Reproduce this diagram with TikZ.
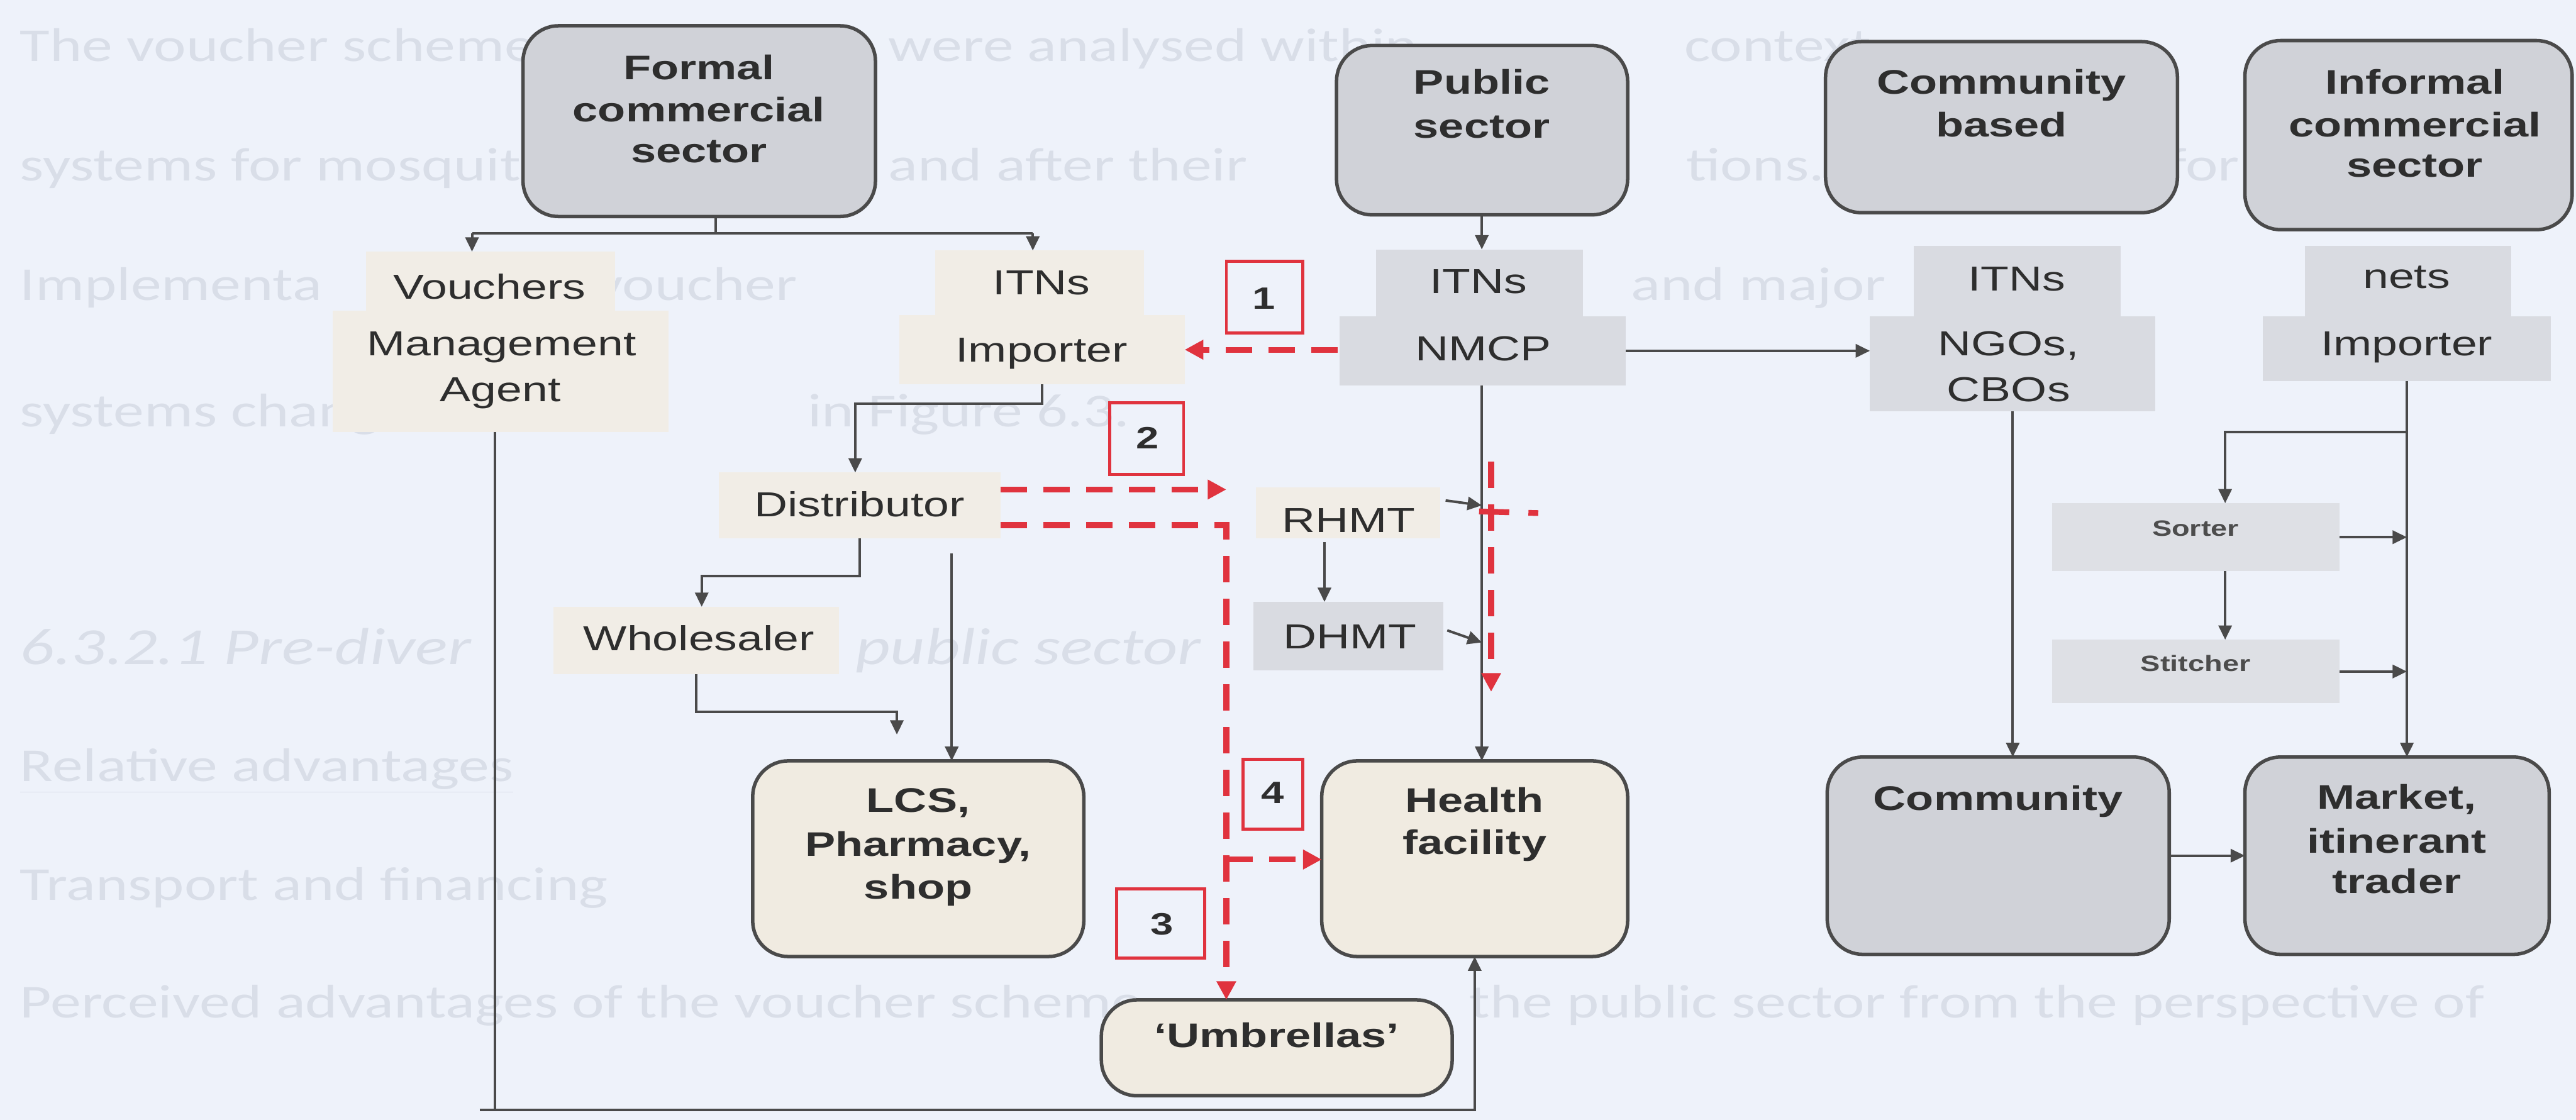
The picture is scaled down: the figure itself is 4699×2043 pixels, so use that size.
\documentclass[tikz,border=0pt]{standalone}
\usepackage{fontspec}
\setmainfont{Liberation Sans}[FakeStretch=1.33]
\newfontfamily\bgfont{Carlito}[FakeStretch=1.3]
\usetikzlibrary{arrows.meta,fit}
\definecolor{pagebg}{HTML}{EEF2FA}
\definecolor{ghost}{HTML}{D9DEE8}
\definecolor{boxgray}{HTML}{D0D2D8}
\definecolor{boxcream}{HTML}{F0EBE1}
\definecolor{lblcream}{HTML}{F1EDE6}
\definecolor{lblgray}{HTML}{D9DBE1}
\definecolor{lblgrayl}{HTML}{DEE0E5}
\definecolor{edge}{HTML}{4A4A4A}
\definecolor{ink}{HTML}{2E2E2E}
\definecolor{redl}{HTML}{E0333E}
\tikzset{
  rbox/.style={draw=edge, line width=1.8pt, rounded corners=6.5mm, inner sep=0pt, outer sep=0pt},
  graybox/.style={rbox, fill=boxgray},
  creambox/.style={rbox, fill=boxcream},
  lblc/.style={inner sep=0pt, outer sep=0pt, draw=none, fill=lblcream},
  lblg/.style={inner sep=0pt, outer sep=0pt, draw=none, fill=lblgray},
  lblgl/.style={inner sep=0pt, outer sep=0pt, draw=none, fill=lblgrayl},
  numbox/.style={draw=redl, line width=1.6pt, inner sep=0pt, outer sep=0pt},
  btxt/.style={anchor=base, inner sep=0pt, text=ink, font=\fontsize{17.7}{21}\selectfont\bfseries},
  rtxt/.style={anchor=base, inner sep=0pt, text=ink, font=\fontsize{18}{22}\selectfont},
  stxt/.style={anchor=base, inner sep=0pt, text=ink!85, font=\fontsize{11.5}{14}\selectfont\bfseries},
  ntxt/.style={anchor=base, inner sep=0pt, text=ink, font=\fontsize{16}{19}\selectfont\bfseries},
  gtxt/.style={anchor=base west, inner sep=0pt, text=ghost, font=\bgfont\fontsize{24.5}{29}\selectfont},
  conn/.style={draw=edge, line width=1.3pt},
  arr/.style={conn, -{Triangle[length=2.6mm,width=2.4mm]}},
  rdash/.style={draw=redl, line width=3pt, dash pattern=on 4.8mm off 3mm},
  rarr/.style={rdash, -{Triangle[length=3.4mm,width=3.4mm]}},
}
\begin{document}
\begin{tikzpicture}[x=0.01cm, y=-0.01cm]
\useasboundingbox (0,0) rectangle (4699,2043);
\fill[pagebg] (0,0) rectangle (4699,2043);

% faint show-through text of the page (only the visible pieces)
\node[gtxt] (g1a) at (36,112) {The voucher scheme};
\node[gtxt] (g1b) at (1620,112) {were analysed within};
\node[gtxt] (g1c) at (3072,112) {context};
\node[gtxt] (g2a) at (36,330) {systems for mosquito};
\node[gtxt] (g2b) at (1620,330) {and after their};
\node[gtxt] (g2c) at (3075,330) {tions. The timeline for};
\node[gtxt] (g3a) at (36,548) {Implementa};
\node[gtxt] (g3b) at (1085,548) {voucher};
\node[gtxt] (g3c) at (2975,548) {and major};
\node[gtxt] (g4a) at (36,778) {systems changes};
\node[gtxt] (g4b) at (1473,778) {in Figure 6.3.};
\node[gtxt, font=\bgfont\itshape\fontsize{27}{32}\selectfont] (g5a) at (36,1212) {6.3.2.1 Pre-diver};
\node[gtxt, font=\bgfont\itshape\fontsize{27}{32}\selectfont] (g5b) at (1560,1212) {public sector};
\node[gtxt] (g6) at (36,1425) {\underline{Relative advantages}};
\node[gtxt] (g7) at (36,1642) {Transport and financing};
\node[gtxt] (g8a) at (36,1857) {Perceived advantages of the voucher scheme};
\node[gtxt] (g8b) at (2680,1857) {the public sector from the perspective of};

% label backgrounds
\node[lblc, fit={(668,459) (1122,567)}] (vouchA) {};
\node[lblc, fit={(607,567) (1219,788)}] (vouchB) {};
\node[lblc, fit={(1706,457) (2087,575)}] (itnA) {};
\node[lblc, fit={(1641,575) (2161,701)}] (itnB) {};
\node[lblg, fit={(2510,455) (2888,577)}] (nmcpA) {};
\node[lblg, fit={(2443,577) (2966,703)}] (nmcpB) {};
\node[lblg, fit={(3491,448) (3868,577)}] (ngoA) {};
\node[lblg, fit={(3411,577) (3932,750)}] (ngoB) {};
\node[lblg, fit={(4204,448) (4581,577)}] (netsA) {};
\node[lblg, fit={(4128,577) (4653,695)}] (netsB) {};
\node[lblc, fit={(1311,862) (1825,982)}] (distr) {};
\node[lblc, fit={(1010,1107) (1530,1230)}] (whole) {};
\node[lblc, fit={(2291,889) (2627,982)}] (rhmt) {};
\node[lblg, fit={(2286,1098) (2633,1223)}] (dhmt) {};
\node[lblgl, fit={(3743,918) (4268,1042)}] (sorter) {};
\node[lblgl, fit={(3743,1167) (4268,1283)}] (stitch) {};

% rounded boxes
\node[graybox, fit={(954,47) (1597,395)}] (formal) {};
\node[graybox, fit={(2438,83) (2969,392)}] (public) {};
\node[graybox, fit={(3330,76) (3972,388)}] (commb) {};
\node[graybox, fit={(4095,74) (4692,419)}] (informal) {};
\node[creambox, fit={(1373,1388) (1977,1745)}] (lcs) {};
\node[creambox, fit={(2411,1388) (2969,1745)}] (health) {};
\node[creambox, fit={(2009,1824) (2649,1999)}] (umbr) {};
\node[graybox, fit={(3333,1381) (3957,1741)}] (community) {};
\node[graybox, fit={(4095,1381) (4650,1741)}] (market) {};

% red number boxes
\node[numbox, fit={(2237,477) (2376,607)}] (n1) {};
\node[numbox, fit={(2024,735) (2159,866)}] (n2) {};
\node[numbox, fit={(2267,1385) (2376,1513)}] (n4) {};
\node[numbox, fit={(2037,1622) (2197,1748)}] (n3) {};

% black connectors
\coordinate (fJ) at (1306,426);
\coordinate (fL) at (861,426);
\coordinate (fR) at (1884,426);
\draw[conn] (fJ |- formal.south) -- (fJ);
\draw[conn] (fL) -- (fR);
\draw[arr] (fL) -- (fL |- vouchA.north);
\draw[arr] (fR) -- (fR |- itnA.north);

\coordinate (pv) at (2703,0);
\draw[arr] (pv |- public.south) -- (pv |- nmcpA.north);
\draw[arr] (nmcpB.south -| pv) -- (health.north -| pv);
\draw[arr] (nmcpB.east) -- (ngoB.west |- nmcpB.east);

\coordinate (vE) at (2703,922);
\coordinate (eS) at (2637,913);
\draw[arr] (eS) -- (vE);
\coordinate (vF) at (2703,1172);
\coordinate (fS) at (2640,1150);
\draw[arr] (fS) -- (vF);
\coordinate (gX) at (2416,989);
\draw[arr] (gX) -- (gX |- dhmt.north);

\coordinate (hC) at (1560,737);
\draw[arr] (itnB.south) |- (hC) -- (hC |- distr.north);
\coordinate (iC) at (1280,1051);
\draw[arr] (distr.south) |- (iC) -- (iC |- whole.north);
\coordinate (jC) at (1736,1010);
\draw[arr] (jC) -- (jC |- lcs.north);
\coordinate (kC) at (1636,1299);
\coordinate (kE) at (1636,1340);
\draw[arr] (whole.south) |- (kC) -- (kE);

\coordinate (lC) at (903,2025);
\coordinate (lL) at (875,2025);
\draw[conn] (lC |- vouchB.south) -- (lC);
\draw[arr] (lL) -| (health.south);

\draw[arr] (ngoB.south) -- (ngoB.south |- community.north);
\draw[arr] (netsB.south) -- (netsB.south |- market.north);
\coordinate (oR) at (4390,788);
\coordinate (oL) at (4059,788);
\draw[arr] (oR) -- (oL) -- (oL |- sorter.north);
\draw[arr] (sorter.east) -- (sorter.east -| netsB.south);
\draw[arr] (oL |- sorter.south) -- (oL |- stitch.north);
\draw[arr] (stitch.east) -- (stitch.east -| netsB.south);
\draw[arr] (community.east) -- (market.west |- community.east);

% red dashed connectors
\coordinate (r1s) at (2440,638);
\draw[rarr] (r1s) -- (itnB.east |- r1s);
\coordinate (r2e) at (2237,893);
\draw[rarr] (distr.east |- r2e) -- (r2e);
\coordinate (r3c) at (2237,958);
\draw[rarr] (distr.east |- r3c) -- (r3c) -- (r3c |- umbr.north);
\coordinate (r4s) at (2237,1568);
\draw[rarr] (r4s) -- (health.west |- r4s);
\coordinate (r5s) at (2720,842);
\coordinate (r5e) at (2720,1262);
\draw[rarr] (r5s) -- (r5e);
\coordinate (r6s) at (2698,933);
\coordinate (r6e) at (2806,936);
\draw[rdash, dash pattern=on 5.5mm off 3.5mm] (r6s) -- (r6e);

% texts
\node[btxt] (tF1) at (1275,145) {Formal};
\node[btxt] (tF2) at (1275,222) {commercial};
\node[btxt] (tF3) at (1275,297) {sector};
\node[btxt] (tP1) at (2703,172) {Public};
\node[btxt] (tP2) at (2703,252) {sector};
\node[btxt] (tC1) at (3651,172) {Community};
\node[btxt] (tC2) at (3651,250) {based};
\node[btxt] (tI1) at (4405,172) {Informal};
\node[btxt] (tI2) at (4405,250) {commercial};
\node[btxt] (tI3) at (4405,323) {sector};

\node[rtxt] (tV1) at (893,546) {Vouchers};
\node[rtxt] (tV2) at (915,649) {Management};
\node[rtxt] (tV3) at (913,732) {Agent};
\node[rtxt] (tT1) at (1900,537) {ITNs};
\node[rtxt] (tT2) at (1900,660) {Importer};
\node[rtxt] (tN1) at (2697,535) {ITNs};
\node[rtxt] (tN2) at (2706,658) {NMCP};
\node[rtxt] (tG1) at (3679,531) {ITNs};
\node[rtxt] (tG2) at (3664,649) {NGOs,};
\node[rtxt] (tG3) at (3664,732) {CBOs};
\node[rtxt] (tS1) at (4390,526) {nets};
\node[rtxt] (tS2) at (4390,649) {Importer};
\node[rtxt] (tD) at (1568,942) {Distributor};
\node[rtxt] (tW) at (1275,1187) {Wholesaler};
\node[rtxt] (tR) at (2460,971) {RHMT};
\node[rtxt] (tDH) at (2462,1183) {DHMT};
\node[stxt] (tSo) at (4005,978) {Sorter};
\node[stxt] (tSt) at (4005,1225) {Stitcher};

\node[ntxt] (tn1) at (2306,564) {1};
\node[ntxt] (tn2) at (2093,819) {2};
\node[ntxt] (tn4) at (2322,1466) {4};
\node[ntxt] (tn3) at (2120,1705) {3};

\node[btxt] (tL1) at (1675,1482) {LCS,};
\node[btxt] (tL2) at (1675,1562) {Pharmacy,};
\node[btxt] (tL3) at (1675,1640) {shop};
\node[btxt] (tH1) at (2690,1482) {Health};
\node[btxt] (tH2) at (2690,1558) {facility};
\node[btxt] (tU) at (2329,1911) {‘Umbrellas’};
\node[btxt] (tCo) at (3645,1478) {Community};
\node[btxt] (tM1) at (4372,1476) {Market,};
\node[btxt] (tM2) at (4372,1556) {itinerant};
\node[btxt] (tM3) at (4372,1630) {trader};
\end{tikzpicture}
\end{document}
